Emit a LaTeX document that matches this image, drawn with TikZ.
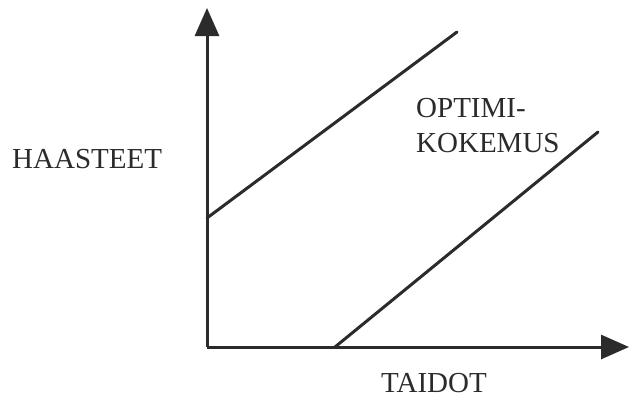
\documentclass[tikz,border=0pt]{standalone}
\usepackage{fontspec}
\setmainfont{Liberation Serif}
\usetikzlibrary{arrows.meta,positioning}
\definecolor{ink}{HTML}{2B2B2B}

\begin{document}
\begin{tikzpicture}[x=1pt,y=-1pt,font=\fontsize{29}{34}\selectfont,inner sep=0pt,
  axis/.style={line width=3pt,draw=ink,-{Triangle[length=28pt,width=24pt]}},
  bound/.style={line width=3pt,draw=ink,line cap=round},
  lbl/.style={text=ink,anchor=base west}]
  \useasboundingbox (0,0) rectangle (630,399);
  % axes
  \coordinate (o) at (207,347);
  \coordinate (ytop) at (207,8);
  \coordinate (xend) at (629,347);
  \draw [axis] (o) -- (ytop);
  \draw [axis] (o) -- (xend);
  % channel
  \coordinate (a1) at (207,218);
  \coordinate (a2) at (457,32);
  \coordinate (b1) at (335,347);
  \coordinate (b2) at (598,132);
  \draw [bound] (a1) -- (a2);
  \draw [bound] (b1) -- (b2);
  % labels
  \node [lbl] (haasteet) at (12,168) {HAASTEET};
  \node [lbl] (optimi) at (416,117) {OPTIMI-};
  \node [lbl,below=35pt of optimi.base west,anchor=base west] (kokemus) {KOKEMUS};
  \node [lbl] (taidot) at (381,392) {TAIDOT};
\end{tikzpicture}
\end{document}
